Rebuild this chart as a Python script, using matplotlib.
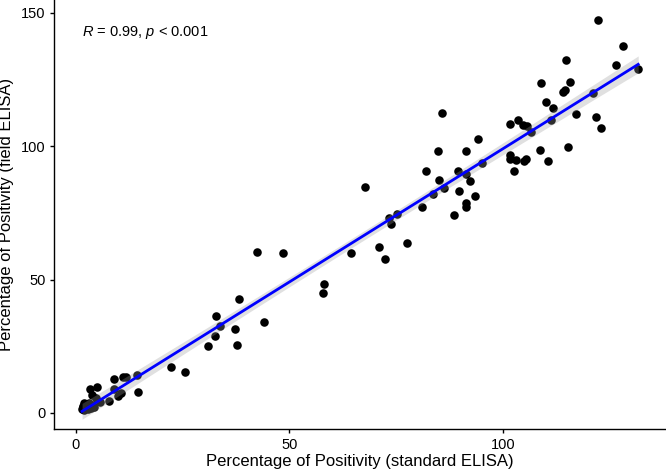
import numpy as np
import matplotlib
matplotlib.use("Agg")
import matplotlib.pyplot as plt

plt.rcParams["font.family"] = ["Liberation Sans", "DejaVu Sans"]
plt.rcParams["mathtext.fontset"] = "custom"
plt.rcParams["mathtext.rm"] = "Liberation Sans"
plt.rcParams["mathtext.it"] = "Liberation Sans:italic"

# standard ELISA (x) vs field ELISA (y), percentage of positivity
standard_elisa = [
    1.5, 1.8, 2.0, 2.3, 2.5, 2.9, 3.1, 3.3, 3.6, 2.0, 1.6, 2.7, 3.9, 4.3,
    3.3, 4.9, 3.9, 4.8, 5.7, 7.7, 8.9, 8.9, 9.9, 10.5, 11.1, 11.7, 14.4, 14.7,
    22.4, 25.6, 31.0, 32.6, 32.9, 33.9, 37.4, 37.7, 38.2, 42.5, 44.2, 48.6,
    57.9, 58.2, 64.4, 67.8, 71.0, 72.4, 73.3, 73.8, 75.2, 77.5,
    81.1, 82.0, 83.6, 84.9, 85.1, 85.7, 86.3, 88.6, 89.7, 89.6, 91.3, 91.3,
    91.3, 91.5, 92.3, 93.4, 94.1, 95.2,
    101.8, 101.8, 103.0, 102.7, 104.9, 105.4, 108.6, 110.6, 115.2,
    101.8, 103.6, 104.7, 105.7, 106.7, 110.1, 111.8, 111.3, 108.9, 114.1,
    114.6, 115.7, 114.9, 117.2, 121.1, 121.8, 123.0, 126.5, 131.7, 122.3, 128.1,
]
field_elisa = [
    1.5, 2.6, 1.2, 3.2, 2.0, 1.6, 3.6, 2.3, 1.8, 3.9, 2.2, 2.9, 3.1, 2.4,
    8.8, 9.7, 6.6, 5.7, 4.0, 4.4, 12.6, 9.1, 6.3, 7.5, 13.5, 13.5, 14.2, 7.9,
    17.2, 15.5, 25.2, 28.7, 36.2, 32.5, 31.3, 25.4, 42.6, 60.4, 34.0, 60.1,
    45.0, 48.2, 60.1, 84.5, 62.0, 57.8, 73.2, 70.7, 74.5, 63.5,
    77.0, 90.6, 82.0, 98.1, 87.3, 112.2, 84.3, 74.1, 83.3, 90.6, 78.6, 77.1,
    89.6, 98.1, 86.9, 81.3, 102.5, 93.7,
    96.7, 95.1, 94.9, 90.5, 94.4, 95.3, 98.4, 94.5, 99.6,
    108.3, 109.9, 107.8, 107.4, 105.4, 116.6, 114.1, 109.7, 123.5, 120.1,
    121.0, 124.0, 132.4, 112.0, 120.0, 110.7, 106.9, 130.2, 128.7, 147.4, 137.4,
]

x_ticks = [0, 50, 100]
y_ticks = [0, 50, 100, 150]
cor_label = r"$\it{R}$ = 0.99, $\it{p}$ < 0.001"


def expand(values, frac=0.05):
    lo, hi = min(values), max(values)
    pad = (hi - lo) * frac
    return lo - pad, hi + pad


def lm_band(x, y, n=80):
    # linear fit with 95% confidence band, like geom_smooth(method = "lm")
    x = np.asarray(x)
    y = np.asarray(y)
    slope, icpt = np.polyfit(x, y, 1)
    resid = y - (slope * x + icpt)
    dof = len(x) - 2
    s = np.sqrt(np.sum(resid ** 2) / dof)
    xs = np.linspace(x.min(), x.max(), n)
    se = s * np.sqrt(1 / len(x) + (xs - x.mean()) ** 2 / np.sum((x - x.mean()) ** 2))
    fit = slope * xs + icpt
    t = 1.984
    return xs, fit, fit - t * se, fit + t * se


def main():
    fig = plt.figure(figsize=(6.66, 4.72), dpi=100)
    ax = fig.add_axes([0.0815, 0.0905, 0.9185, 0.9095])

    ax.scatter(standard_elisa, field_elisa, s=38, color="black", linewidths=0, zorder=2)

    xs, fit, lo, hi = lm_band(standard_elisa, field_elisa)
    ax.fill_between(xs, lo, hi, color="#999999", alpha=0.3, linewidth=0, zorder=3)
    ax.plot(xs, fit, color="#0000FF", linewidth=2.0, zorder=4)

    ax.set_xlim(*expand(standard_elisa))
    ax.set_ylim(*expand(field_elisa))
    ax.set_xticks(x_ticks)
    ax.set_yticks(y_ticks)

    for side in ["top", "right"]:
        ax.spines[side].set_visible(False)
    for side in ["left", "bottom"]:
        ax.spines[side].set_linewidth(1.0)
    ax.tick_params(length=2.75, width=1.0, labelsize=10.5, colors="black", pad=3.5)

    ax.set_xlabel("Percentage of Positivity (standard ELISA)", fontsize=12, labelpad=1.5)
    # y title sits close to the left edge, as in the original
    fig.text(11 / 666, ax.get_position().y0 + ax.get_position().height / 2,
             "Percentage of Positivity (field ELISA)", fontsize=12,
             rotation=90, rotation_mode="anchor", ha="center", va="baseline")

    ax.text(0.045, 0.925, cor_label, transform=ax.transAxes, fontsize=10.5,
            ha="left", va="center")

    fig.savefig("out.png", dpi=100)
    plt.close(fig)


if __name__ == "__main__":
    main()
